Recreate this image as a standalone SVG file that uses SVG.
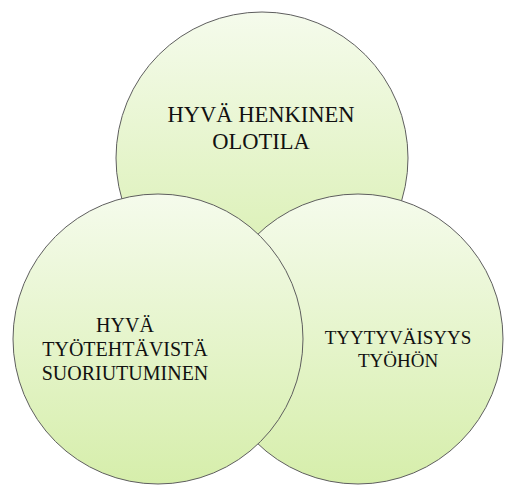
<svg xmlns="http://www.w3.org/2000/svg" width="505" height="485" viewBox="0 0 505 485">
<style>
.c{stroke:#5e5e5e;stroke-width:1;fill:url(#g)}
.t{fill:#111;text-anchor:middle}
</style>
<defs>
<linearGradient id="g" x1="0" y1="0" x2="0" y2="1">
<stop offset="0" stop-color="#f5fbec"/>
<stop offset="1" stop-color="#d6eeab"/>
</linearGradient>
</defs>
<rect width="505" height="485" fill="#fff"/>
<g id="top">
<circle class="c" cx="262" cy="158" r="146"/>
<text class="t" font-family="Liberation Serif, serif" font-size="22.5"><tspan x="261" y="122">HYVÄ HENKINEN</tspan><tspan x="261" y="149">OLOTILA</tspan></text>
</g>
<g id="right">
<circle class="c" cx="358" cy="339" r="145"/>
<text class="t" font-family="Liberation Serif, serif" font-size="19"><tspan x="398" y="344">TYYTYVÄISYYS</tspan><tspan x="398" y="367">TYÖHÖN</tspan></text>
</g>
<g id="left">
<circle class="c" cx="158" cy="339" r="145"/>
<text class="t" font-family="Liberation Serif, serif" font-size="20"><tspan x="125" y="332">HYVÄ</tspan><tspan x="125" y="356">TYÖTEHTÄVISTÄ</tspan><tspan x="125" y="380">SUORIUTUMINEN</tspan></text>
</g>
<g id="connectors"/>
</svg>
